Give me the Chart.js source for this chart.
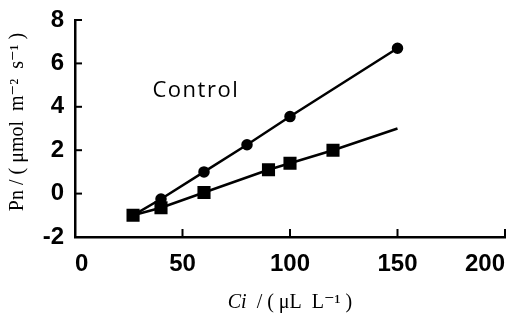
<!DOCTYPE html>
<html><head><meta charset="utf-8">
<script src="https://cdn.jsdelivr.net/npm/chart.js@4/dist/chart.umd.min.js"></script>
<style>html,body{margin:0;padding:0;background:#fff}#wrap{width:518px;height:325px}</style>
</head><body><div id="wrap"><canvas id="c"></canvas></div>
<script>
const controlX = [27, 40, 60, 80, 100, 150];
const controlY = [-1.0, -0.25, 1.0, 2.25, 3.55, 6.7];
const treatX = [27, 40, 60, 90, 100, 120, 150];
const treatY = [-1.0, -0.65, 0.05, 1.1, 1.4, 2.0, 3.0];
const treatMarker = [1, 1, 1, 1, 1, 1, 0];
const xTicks = [0, 50, 100, 150, 200];
const yTicks = [-2, 0, 2, 4, 6, 8];
const labelText = 'Control';
const labelPos = [50, 4.75];

const toPts = (xs, ys) => xs.map((x, i) => ({x, y: ys[i]}));
const tickFont = {size: 24, weight: 'bold', family: '"Liberation Sans", Arial, sans-serif'};
const serif = '"Liberation Serif", "DejaVu Serif", serif';

const inwardTicks = {
  id: 'inwardTicks',
  afterDatasetsDraw(chart) {
    const {ctx, chartArea: a, scales: {x, y}} = chart;
    ctx.save();
    ctx.strokeStyle = '#000';
    ctx.lineWidth = 2;
    xTicks.forEach(v => {
      if (v === 0) return;
      const px = x.getPixelForValue(v);
      ctx.beginPath(); ctx.moveTo(px, a.bottom); ctx.lineTo(px, a.bottom - 8); ctx.stroke();
    });
    yTicks.forEach(v => {
      if (v === -2) return;
      const py = y.getPixelForValue(v);
      ctx.beginPath(); ctx.moveTo(a.left, py); ctx.lineTo(a.left + 7, py); ctx.stroke();
    });
    // annotation
    ctx.fillStyle = '#000';
    ctx.font = '22px "Open Sans", "Liberation Sans", sans-serif';
    ctx.letterSpacing = '1.5px';
    ctx.textAlign = 'left'; ctx.textBaseline = 'middle';
    ctx.fillText(labelText, x.getPixelForValue(labelPos[0]) - 30, y.getPixelForValue(labelPos[1]));
    ctx.letterSpacing = '0px';
    // y title
    ctx.save();
    ctx.translate(18, 122);
    ctx.rotate(-Math.PI / 2);
    ctx.textAlign = 'center';
    ctx.font = '20px ' + serif;
    ctx.fillText('Pn / ( μmol  m⁻²  s⁻¹ )', 0, 0);
    ctx.restore();
    // x title with italic Ci
    ctx.textBaseline = 'middle';
    const cx = (a.left + a.right) / 2;
    const ty = 303;
    ctx.font = 'italic 20px ' + serif;
    const p1 = 'Ci';
    const w1 = ctx.measureText(p1).width;
    ctx.font = '20px ' + serif;
    const p2 = '  / ( μL  L⁻¹ )';
    const w2 = ctx.measureText(p2).width;
    let sx = cx - (w1 + w2) / 2;
    ctx.textAlign = 'left';
    ctx.font = 'italic 20px ' + serif;
    ctx.fillText(p1, sx, ty);
    ctx.font = '20px ' + serif;
    ctx.fillText(p2, sx + w1, ty);
    ctx.restore();
  }
};

new Chart(document.getElementById('c'), {
  type: 'line',
  data: {
    datasets: [
      {
        label: 'Control',
        data: toPts(controlX, controlY),
        borderColor: '#000', backgroundColor: '#000', borderWidth: 2.5,
        pointStyle: 'circle', pointRadius: 4.5, tension: 0
      },
      {
        label: 'Treatment',
        data: toPts(treatX, treatY),
        borderColor: '#000', backgroundColor: '#000', borderWidth: 2.5,
        pointStyle: 'rect', pointRadius: treatMarker.map(m => m ? 7.5 : 0), tension: 0
      }
    ]
  },
  options: {
    responsive: true, maintainAspectRatio: false, animation: false,
    layout: {padding: {left: 0, right: 13, top: 20, bottom: 0}},
    plugins: {legend: {display: false}, tooltip: {enabled: false}},
    scales: {
      x: {
        type: 'linear', min: 0, max: 200,
        afterBuildTicks: s => { s.ticks = xTicks.map(v => ({value: v})); },
        afterFit: s => { s.height = 88; s.paddingLeft = 0; s.paddingRight = 0; },
        grid: {display: false, drawTicks: false},
        border: {display: true, color: '#000', width: 2.5},
        ticks: {color: '#000', padding: 13, align: 'inner', font: tickFont},
        title: {display: false}
      },
      y: {
        type: 'linear', min: -2, max: 8,
        afterBuildTicks: s => { s.ticks = yTicks.map(v => ({value: v})); },
        afterFit: s => { s.width = 75; s.paddingTop = 0; s.paddingBottom = 0; },
        grid: {display: false, drawTicks: false},
        border: {display: true, color: '#000', width: 2.5},
        ticks: {color: '#000', padding: 11, font: tickFont},
        title: {display: false}
      }
    }
  },
  plugins: [inwardTicks]
});
</script>
</body></html>
